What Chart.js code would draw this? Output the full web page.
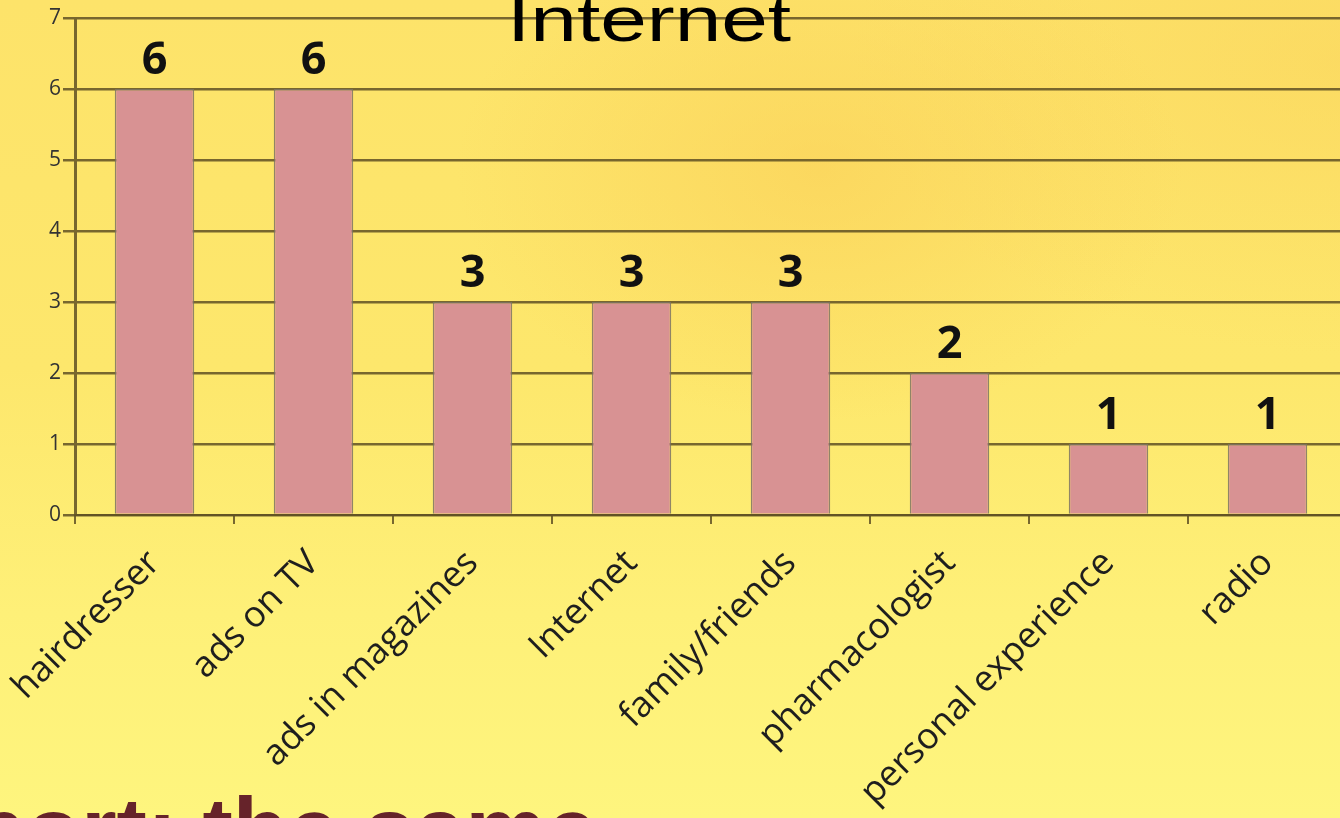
<!DOCTYPE html>
<html>
<head>
<meta charset="utf-8">
<script src="https://cdn.jsdelivr.net/npm/chart.js@4.4.1/dist/chart.umd.min.js"></script>
<style>
  html, body {
    margin: 0;
    padding: 0;
    width: 1340px;
    height: 818px;
    overflow: hidden;
  }
  body {
    position: relative;
    background:
      radial-gradient(ellipse 520px 360px at 820px 170px, rgba(250, 205, 85, 0.55), rgba(250, 205, 85, 0) 70%),
      radial-gradient(ellipse 700px 420px at 1340px 60px, rgba(250, 210, 90, 0.5), rgba(250, 210, 90, 0) 70%),
      linear-gradient(to bottom, #fde36a 0%, #fde76c 45%, #fef078 75%, #fef57e 100%);
  }
  #wrap {
    position: absolute;
    left: 0;
    top: 0;
    width: 1350px;
    height: 818px;
  }
  #title {
    position: absolute;
    left: 507px;
    top: -12px;
    font: 63px "Liberation Sans", Arial, sans-serif;
    line-height: 1;
    color: #000;
    white-space: nowrap;
    transform-origin: left top;
    transform: scaleX(1.33);
  }
  #caption {
    position: absolute;
    left: -30px;
    top: 784px;
    font: bold 91px "Liberation Sans", Arial, sans-serif;
    line-height: 1;
    color: #66232a;
    white-space: nowrap;
  }
</style>
</head>
<body>
<div id="wrap"><canvas id="chart"></canvas></div>
<div id="title">Internet</div>
<div id="caption">port: the same</div>
<script>
const categories = [
  "hairdresser",
  "ads on TV",
  "ads in magazines",
  "Internet",
  "family/friends",
  "pharmacologist",
  "personal experience",
  "radio",
];
const counts = [6, 6, 3, 3, 3, 2, 1, 1];
const yTicks = [0, 1, 2, 3, 4, 5, 6, 7];

const lineColor = "rgba(95, 80, 35, 0.85)";

// value labels above each bar
const barLabels = {
  id: "barLabels",
  afterDatasetsDraw(chart) {
    const ctx = chart.ctx;
    const meta = chart.getDatasetMeta(0);
    ctx.save();
    ctx.font = 'bold 45px "Open Sans"';
    ctx.fillStyle = "#111";
    ctx.textAlign = "center";
    ctx.textBaseline = "alphabetic";
    meta.data.forEach((bar, i) => {
      ctx.fillText(counts[i], bar.x, bar.y - 15);
    });
    ctx.restore();
  },
};

Chart.defaults.font.family = '"Open Sans", sans-serif';

new Chart(document.getElementById("chart"), {
  type: "bar",
  data: {
    labels: categories,
    datasets: [
      {
        data: counts,
        backgroundColor: "#d89293",
        borderColor: "rgba(125, 115, 100, 0.85)",
        borderWidth: 1.5,
        barPercentage: 0.5,
        categoryPercentage: 1,
      },
    ],
  },
  options: {
    responsive: true,
    maintainAspectRatio: false,
    animation: false,
    layout: { padding: { top: 18, right: 3, left: 0, bottom: 0 } },
    plugins: {
      legend: { display: false },
      tooltip: { enabled: false },
    },
    scales: {
      x: {
        offset: true,
        grid: {
          offset: true,
          drawOnChartArea: false,
          drawTicks: true,
          tickLength: 9,
          color: lineColor,
          lineWidth: 2,
        },
        border: { display: true, color: lineColor, width: 2 },
        ticks: {
          minRotation: 45,
          maxRotation: 45,
          autoSkip: false,
          padding: 18,
          color: "#1e1e1e",
          font: { size: 36 },
        },
        afterFit(scale) {
          scale.height = 303;
          scale.paddingLeft = 0;
          scale.paddingRight = 0;
        },
      },
      y: {
        min: yTicks[0],
        max: yTicks[yTicks.length - 1],
        afterBuildTicks(scale) {
          scale.ticks = yTicks.map((v) => ({ value: v }));
        },
        grid: {
          color: lineColor,
          lineWidth: 2.5,
          drawTicks: true,
          tickLength: 12,
        },
        border: { display: true, color: lineColor, width: 3 },
        ticks: {
          padding: 2,
          color: "#333",
          font: { size: 21 },
        },
        afterFit(scale) {
          scale.width = 75;
        },
      },
    },
  },
  plugins: [barLabels],
});
</script>
</body>
</html>
